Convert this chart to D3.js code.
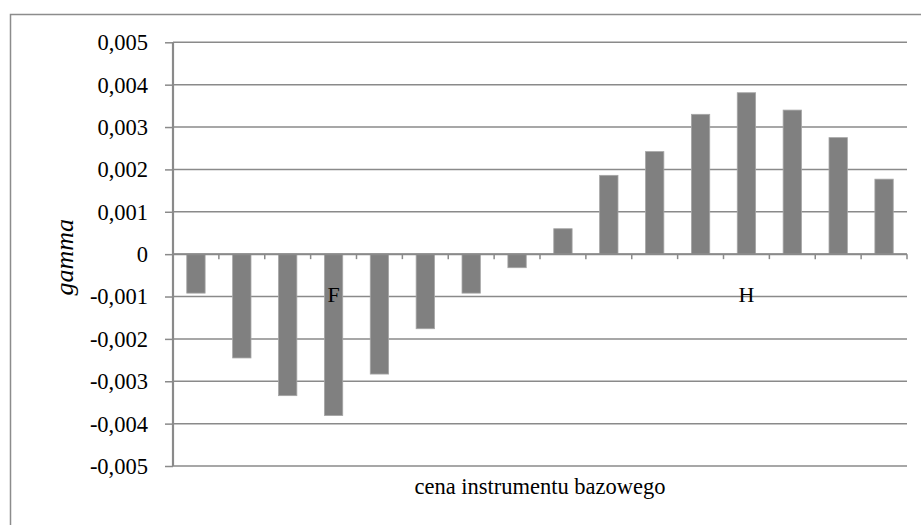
<!DOCTYPE html>
<html>
<head>
<meta charset="utf-8">
<script src="https://cdn.jsdelivr.net/npm/d3@7"></script>
<style>
  html, body { margin: 0; padding: 0; background: #fff; }
  svg { display: block; }
  svg text { font-family: "Liberation Serif", "DejaVu Serif", serif !important; }
</style>
</head>
<body>
<svg id="chart" width="921" height="525"></svg>
<script>
// ---- data ----
const categories = ["1","2","3","4","5","6","7","8","9","10","11","12","13","14","15","16"];
const gammaValues = [-0.00092, -0.00245, -0.00334, -0.00381, -0.00283, -0.00176, -0.00092, -0.00032,
                      0.00060, 0.00186, 0.00242, 0.00330, 0.00381, 0.00340, 0.00275, 0.00177];
const yTicks = [0.005, 0.004, 0.003, 0.002, 0.001, 0, -0.001, -0.002, -0.003, -0.004, -0.005];
const yTickLabels = ["0,005","0,004","0,003","0,002","0,001","0","-0,001","-0,002","-0,003","-0,004","-0,005"];
const markerCategories = ["4", "13"];
const markerTexts = ["F", "H"];
const xTitle = "cena instrumentu bazowego";
const yTitle = "gamma";

// ---- layout ----
const FONT = "'Liberation Serif', 'DejaVu Serif', serif";
const svg = d3.select("#chart");
const plot = { left: 173, right: 907, top: 42.3, bottom: 466 };
const gridColor = "#8a8a8a";

// outer chart border (cropped at right/bottom as in the reference)
svg.append("rect")
  .attr("x", 10.5).attr("y", 14.5)
  .attr("width", 930).attr("height", 530)
  .attr("fill", "none").attr("stroke", "#8c8c8c").attr("stroke-width", 1.5);

const x = d3.scaleBand()
  .domain(categories)
  .range([plot.left, plot.right])
  .paddingInner(0.6)
  .paddingOuter(0.3);

const y = d3.scaleLinear()
  .domain([-0.005, 0.005])
  .range([plot.bottom, plot.top]);

// gridlines
svg.append("g")
  .selectAll("line")
  .data(yTicks)
  .join("line")
  .attr("x1", plot.left).attr("x2", plot.right)
  .attr("y1", d => y(d)).attr("y2", d => y(d))
  .attr("stroke", gridColor).attr("stroke-width", 1.5);

// y axis
const yAxis = d3.axisLeft(y)
  .tickValues(yTicks)
  .tickFormat((d, i) => yTickLabels[i])
  .tickSize(8)
  .tickPadding(17);
const gy = svg.append("g")
  .attr("transform", `translate(${plot.left},0)`)
  .call(yAxis)
  .attr("font-family", FONT)
  .attr("font-size", 22.5);
gy.select(".domain").attr("stroke", gridColor).attr("stroke-width", 2.2)
  .attr("d", `M0,${plot.top}V${plot.bottom}`);
gy.selectAll(".tick line").attr("stroke", gridColor).attr("stroke-width", 1.5);
gy.selectAll(".tick text")
  .attr("fill", "#000")
  .attr("font-family", FONT)
  .attr("font-size", 22.5)
  .attr("dy", "0.33em");

// bars
svg.append("g")
  .selectAll("rect")
  .data(gammaValues)
  .join("rect")
  .attr("x", (d, i) => x(categories[i]))
  .attr("width", x.bandwidth())
  .attr("y", d => Math.min(y(0), y(d)))
  .attr("height", d => Math.abs(y(d) - y(0)))
  .attr("fill", "#808080")
  .attr("stroke", "#a6a6a6")
  .attr("stroke-width", 0.8);

// x axis on zero line, ticks at category boundaries
const step = x.step();
const boundaries = d3.range(categories.length + 1).map(k => plot.left + k * step);
const gx = svg.append("g");
gx.append("line")
  .attr("x1", plot.left).attr("x2", plot.right)
  .attr("y1", y(0)).attr("y2", y(0))
  .attr("stroke", gridColor).attr("stroke-width", 2);
gx.selectAll("line.tick")
  .data(boundaries.slice(1))
  .join("line")
  .attr("class", "tick")
  .attr("x1", d => d).attr("x2", d => d)
  .attr("y1", y(0)).attr("y2", y(0) + 5)
  .attr("stroke", gridColor).attr("stroke-width", 1.5);

// markers F and H
svg.append("g")
  .selectAll("text")
  .data(markerTexts)
  .join("text")
  .attr("x", (d, i) => x(markerCategories[i]) + x.bandwidth() / 2)
  .attr("y", y(-0.001) + 5.5)
  .attr("text-anchor", "middle")
  .attr("font-family", FONT)
  .attr("font-size", 22)
  .attr("fill", "#000")
  .text(d => d);

// axis titles
svg.append("text")
  .attr("x", (plot.left + plot.right) / 2)
  .attr("y", 494)
  .attr("text-anchor", "middle")
  .attr("font-family", FONT)
  .attr("font-size", 22.5)
  .attr("fill", "#000")
  .text(xTitle);

svg.append("text")
  .attr("transform", `translate(73,${(plot.top + plot.bottom) / 2 + 3}) rotate(-90)`)
  .attr("text-anchor", "middle")
  .attr("font-family", FONT)
  .attr("font-size", 26)
  .attr("font-style", "italic")
  .attr("fill", "#000")
  .text(yTitle);
</script>
</body>
</html>
